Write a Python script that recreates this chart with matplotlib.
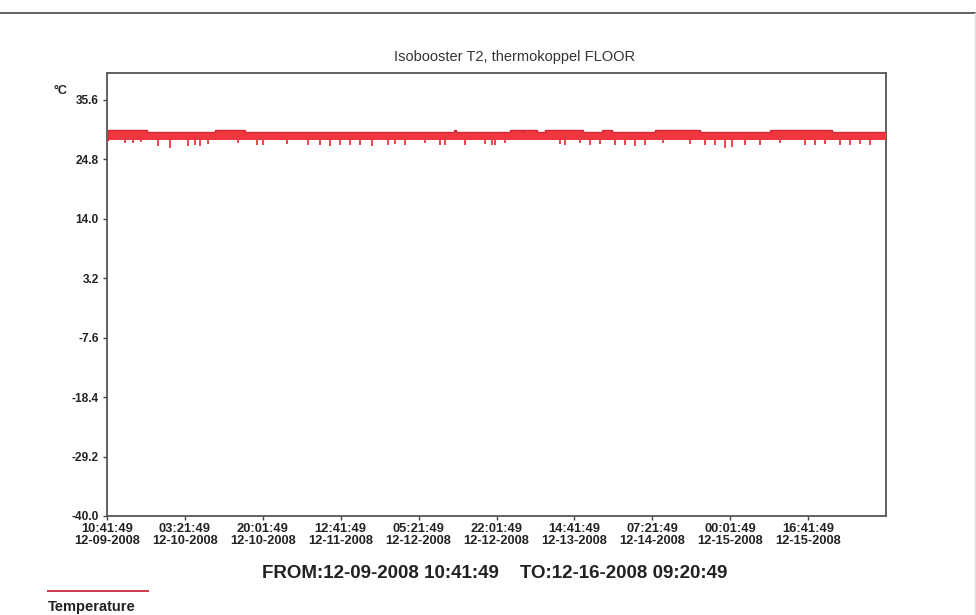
import matplotlib

matplotlib.use("Agg")
import matplotlib.pyplot as plt
import numpy as np
from matplotlib.lines import Line2D

# hours since 12-09-2008 10:41:49, upper edge of the logged band
STEP_HOURS = [0.0, 0.2, 8.6, 23.1, 29.5, 74.3, 74.7, 86.2, 88.8, 89.0, 92.0,
              93.7, 101.9, 105.9, 108.1, 117.3, 126.9, 141.9, 155.2, 166.65]
STEP_TEMPS = [28.4, 30.2, 29.7, 30.2, 29.7, 30.2, 29.7, 30.2, 29.7, 30.2, 29.7,
              30.2, 29.7, 30.2, 29.7, 30.2, 29.7, 30.2, 29.7, 29.7]
BAND_LOW = 28.3

DIP_HOURS = [3.9, 5.6, 7.3, 10.9, 13.5, 17.3, 18.8, 19.9, 21.6, 28.0, 32.1, 33.4,
             38.5, 43.0, 45.6, 47.7, 49.9, 52.0, 54.1, 56.7, 60.1, 61.6, 63.8,
             68.1, 71.3, 72.3, 76.6, 80.9, 82.4, 83.0, 85.2, 96.9, 98.0, 101.2,
             103.4, 105.5, 108.7, 110.9, 113.0, 115.1, 119.0, 124.8, 128.0,
             130.1, 132.3, 133.8, 136.5, 139.7, 144.0, 149.4, 151.5, 153.7,
             156.9, 159.0, 161.1, 163.3]
DIP_TEMPS = [27.8, 27.7, 27.9, 27.3, 26.8, 27.2, 27.5, 27.3, 27.6, 27.8, 27.5, 27.4,
             27.6, 27.5, 27.4, 27.3, 27.5, 27.4, 27.5, 27.3, 27.4, 27.6, 27.5,
             27.7, 27.4, 27.5, 27.5, 27.6, 27.4, 27.5, 27.7, 27.6, 27.5, 27.7,
             27.5, 27.6, 27.4, 27.5, 27.3, 27.5, 27.7, 27.6, 27.5,
             27.4, 26.9, 27.0, 27.4, 27.5, 27.7, 27.5, 27.4, 27.6,
             27.5, 27.4, 27.6, 27.5]

# faint last reading at the right edge
END_HOURS = [166.65, 166.65]
END_TEMPS = [6.3, -2.3]

X_TICKS = [0, 16.667, 33.333, 50.0, 66.667, 83.333, 100.0, 116.667, 133.333, 150.0]
X_LABELS = [
    "10:41:49\n12-09-2008", "03:21:49\n12-10-2008", "20:01:49\n12-10-2008",
    "12:41:49\n12-11-2008", "05:21:49\n12-12-2008", "22:01:49\n12-12-2008",
    "14:41:49\n12-13-2008", "07:21:49\n12-14-2008", "00:01:49\n12-15-2008",
    "16:41:49\n12-15-2008",
]
Y_TICKS = [35.6, 24.8, 14.0, 3.2, -7.6, -18.4, -29.2, -40.0]
Y_LABELS = ["35.6", "24.8", "14.0", "3.2", "-7.6", "-18.4", "-29.2", "-40.0"]

RED = "#f0363f"

plt.rcParams["font.family"] = "Liberation Sans"

fig = plt.figure(figsize=(9.76, 6.15), dpi=100, facecolor="white")
ax = fig.add_axes([107 / 976, 1 - 516 / 615, 779 / 976, 443 / 615])

ax.fill_between(STEP_HOURS, BAND_LOW, STEP_TEMPS, step="post", color=RED,
                lw=0, zorder=3)
ax.step(STEP_HOURS, STEP_TEMPS, where="post", color="#d42a36", lw=1.0, zorder=3)
idx = np.searchsorted(STEP_HOURS, DIP_HOURS, side="right") - 1
ax.vlines(DIP_HOURS, DIP_TEMPS, BAND_LOW + 0.2, color=RED, lw=1.3, zorder=3)
ax.plot(END_HOURS, END_TEMPS, color="#f6a8b0", lw=1.2, zorder=2)

ax.set_xlim(0, 166.65)
ax.set_ylim(-40, 40.5)
ax.set_xticks(X_TICKS)
ax.set_xticklabels(X_LABELS, fontsize=9.3, fontweight="bold", color="#222222",
                   linespacing=1.05)
ax.set_yticks(Y_TICKS)
ax.set_yticklabels(Y_LABELS, fontsize=8.6, fontweight="bold", color="#222222")
ax.tick_params(axis="both", direction="out", length=3, width=1, color="#444444")
ax.tick_params(axis="y", pad=3)
ax.tick_params(axis="x", pad=2)
for spine in ax.spines.values():
    spine.set_color("#555555")
    spine.set_linewidth(1.3)

fig.text(515 / 976, 1 - 57 / 615, "Isobooster T2, thermokoppel FLOOR",
         ha="center", va="center", fontsize=10.5, color="#333333")
fig.text(60 / 976, 1 - 91 / 615, "°C", ha="center", va="center",
         fontsize=9, fontweight="bold", color="#222222")
fig.text(495 / 976, 1 - 574 / 615,
         "FROM:12-09-2008 10:41:49    TO:12-16-2008 09:20:49",
         ha="center", va="center", fontsize=13.5, fontweight="bold",
         color="#222222")

fig.add_artist(Line2D([48 / 976, 148 / 976], [1 - 591 / 615, 1 - 591 / 615],
                      color="#d03848", lw=1.4))
fig.text(48 / 976, 1 - 607 / 615, "Temperature", ha="left", va="center",
         fontsize=10.5, fontweight="bold", color="#222222")

# page border lines from the scan
fig.add_artist(Line2D([0, 1], [1 - 13 / 615, 1 - 13 / 615], color="#555555", lw=1.3))
fig.add_artist(Line2D([975 / 976, 975 / 976], [0, 1 - 13 / 615], color="#dddddd", lw=1))

fig.savefig("out.png", dpi=100, facecolor="white")
